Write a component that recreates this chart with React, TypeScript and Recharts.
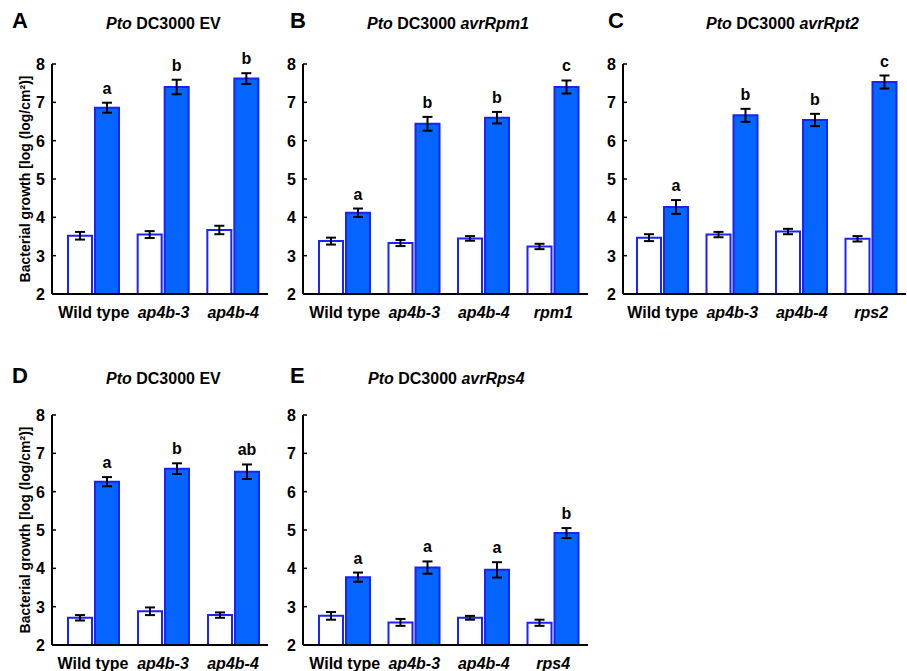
import React from 'react';
import { BarChart, Bar, XAxis, YAxis, ErrorBar, LabelList } from 'recharts';

const FONT = '"Liberation Sans", Arial, Helvetica, sans-serif';

// ---- categories ----
const catsEV = ['Wild type', 'ap4b-3', 'ap4b-4'];
const catsRpm1 = ['Wild type', 'ap4b-3', 'ap4b-4', 'rpm1'];
const catsRpt2 = ['Wild type', 'ap4b-3', 'ap4b-4', 'rps2'];
const catsRps4 = ['Wild type', 'ap4b-3', 'ap4b-4', 'rps4'];
const yTicks = [2, 3, 4, 5, 6, 7, 8];

// ---- Panel A: Pto DC3000 EV ----
const aDay0 = [3.52, 3.55, 3.67];
const aDay0Err = [0.1, 0.09, 0.11];
const aDay3 = [6.86, 7.4, 7.62];
const aDay3Err = [0.13, 0.19, 0.14];
const aLetters = ['a', 'b', 'b'];

// ---- Panel B: Pto DC3000 avrRpm1 ----
const bDay0 = [3.38, 3.33, 3.45, 3.24];
const bDay0Err = [0.09, 0.08, 0.06, 0.07];
const bDay3 = [4.12, 6.44, 6.6, 7.4];
const bDay3Err = [0.11, 0.18, 0.15, 0.17];
const bLetters = ['a', 'b', 'b', 'c'];

// ---- Panel C: Pto DC3000 avrRpt2 ----
const cDay0 = [3.47, 3.55, 3.63, 3.44];
const cDay0Err = [0.09, 0.07, 0.07, 0.07];
const cDay3 = [4.27, 6.66, 6.54, 7.53];
const cDay3Err = [0.18, 0.17, 0.16, 0.17];
const cLetters = ['a', 'b', 'b', 'c'];

// ---- Panel D: Pto DC3000 EV ----
const dDay0 = [2.71, 2.88, 2.78];
const dDay0Err = [0.07, 0.1, 0.07];
const dDay3 = [6.26, 6.6, 6.52];
const dDay3Err = [0.12, 0.14, 0.19];
const dLetters = ['a', 'b', 'ab'];

// ---- Panel E: Pto DC3000 avrRps4 ----
const eDay0 = [2.76, 2.59, 2.71, 2.58];
const eDay0Err = [0.1, 0.09, 0.05, 0.08];
const eDay3 = [3.77, 4.02, 3.96, 4.92];
const eDay3Err = [0.12, 0.16, 0.2, 0.13];
const eLetters = ['a', 'a', 'a', 'b'];

type Row = { cat: string; day0: number; day0Err: number; day3: number; day3Err: number; letter: string };

const build = (cats: string[], d0: number[], e0: number[], d3: number[], e3: number[], letters: string[]): Row[] =>
  cats.map((c, i) => ({ cat: c, day0: d0[i], day0Err: e0[i], day3: d3[i], day3Err: e3[i], letter: letters[i] }));

const dataA = build(catsEV, aDay0, aDay0Err, aDay3, aDay3Err, aLetters);
const dataB = build(catsRpm1, bDay0, bDay0Err, bDay3, bDay3Err, bLetters);
const dataC = build(catsRpt2, cDay0, cDay0Err, cDay3, cDay3Err, cLetters);
const dataD = build(catsEV, dDay0, dDay0Err, dDay3, dDay3Err, dLetters);
const dataE = build(catsRps4, eDay0, eDay0Err, eDay3, eDay3Err, eLetters);

const BLUE_FILL = '#0466ff';
const BLUE_STROKE = '#1a22ff';

const YTick = (props: any) => {
  const { x, y, payload } = props;
  const ax = Number(x) + 7;
  return (
    <g>
      <line x1={ax} x2={ax + 4} y1={y} y2={y} stroke="#000" strokeWidth={1.5} />
      <text x={x} y={y} dy={6} textAnchor="end" fontFamily={FONT} fontWeight="bold" fontSize={16} fill="#000">
        {payload.value}
      </text>
    </g>
  );
};

const XTick = (props: any) => {
  const { x, y, payload } = props;
  const italic = payload.value !== 'Wild type';
  return (
    <text x={x} y={Number(y) + 24} textAnchor="middle" fontFamily={FONT} fontWeight="bold" fontSize={16}
      fontStyle={italic ? 'italic' : 'normal'} fill="#000">
      {payload.value}
    </text>
  );
};

const letterRenderer = (data: Row[]) => (props: any) => {
  const { x, y, width, height, index, value } = props;
  const row = data[index];
  if (!row) return null;
  const ppu = Number(height) / (row.day3 - 2);
  const top = Number(y) - row.day3Err * ppu;
  return (
    <text x={Number(x) + Number(width) / 2} y={top - 9} textAnchor="middle" fontFamily={FONT}
      fontWeight="bold" fontSize={16} fill="#000">
      {value}
    </text>
  );
};

type PanelProps = {
  data: Row[];
  left: number; top: number; height: number;
  axisX: number; plotRight: number; plotTop: number; plotBottom: number; padLeft: number;
};

const Panel = ({ data, left, top, height, axisX, plotRight, plotTop, plotBottom, padLeft }: PanelProps) => {
  const width = plotRight - left + 4;
  const xAxisH = 30;
  const margin = { top: plotTop - top, right: 4, left: 0, bottom: height - (plotBottom - top) - xAxisH };
  return (
    <div style={{ position: 'absolute', left, top, width, height }}>
      <BarChart width={width} height={height} data={data} margin={margin} barSize={24} barGap={3}>
        <XAxis dataKey="cat" height={xAxisH} tickSize={0} tickMargin={0} tickLine={false}
          axisLine={{ stroke: '#000', strokeWidth: 2 }} tick={<XTick />} interval={0}
          padding={{ left: padLeft, right: 0 }} />
        <YAxis type="number" domain={[2, 8]} ticks={yTicks} width={axisX - left} tickSize={0} tickMargin={7}
          tickLine={false} axisLine={{ stroke: '#000', strokeWidth: 2 }} tick={<YTick />} allowDataOverflow />
        <Bar dataKey="day0" fill="#ffffff" stroke={BLUE_STROKE} strokeWidth={2} isAnimationActive={false}>
          <ErrorBar dataKey="day0Err" width={5} stroke="#000" strokeWidth={2} direction="y" />
        </Bar>
        <Bar dataKey="day3" fill={BLUE_FILL} stroke={BLUE_STROKE} strokeWidth={2} isAnimationActive={false}>
          <ErrorBar dataKey="day3Err" width={5} stroke="#000" strokeWidth={2} direction="y" />
          <LabelList dataKey="letter" content={letterRenderer(data)} />
        </Bar>
      </BarChart>
    </div>
  );
};

const Title = ({ x, y, strain }: { x: number; y: number; strain: string }) => (
  <text x={x} y={y} fontFamily={FONT} fontWeight="bold" fontSize={16} fill="#000">
    <tspan fontStyle="italic">Pto</tspan>
    <tspan> DC3000 </tspan>
    <tspan fontStyle={strain === 'EV' ? 'normal' : 'italic'}>{strain}</tspan>
  </text>
);

const Letter = ({ x, y, t }: { x: number; y: number; t: string }) => (
  <text x={x} y={y} fontFamily={FONT} fontWeight="bold" fontSize={22} fill="#000">{t}</text>
);

const YLabel = ({ x, y }: { x: number; y: number }) => (
  <text x={x} y={y} transform={`rotate(-90 ${x} ${y})`} textAnchor="middle" fontFamily={FONT}
    fontWeight="bold" fontSize={14} fill="#000">
    Bacterial growth [log (log/cm²)]
  </text>
);

export default function App() {
  return (
    <div style={{ position: 'absolute', left: 0, top: 0, width: 907, height: 671, overflow: 'hidden', background: '#fff' }}>
      <Panel data={dataA} left={0} top={40} height={300} axisX={52} plotRight={268} plotTop={64} plotBottom={294} padLeft={7} />
      <Panel data={dataB} left={255} top={40} height={300} axisX={303} plotRight={588} plotTop={64} plotBottom={294} padLeft={7} />
      <Panel data={dataC} left={575} top={40} height={300} axisX={623} plotRight={906} plotTop={64} plotBottom={294} padLeft={5} />
      <Panel data={dataD} left={0} top={390} height={300} axisX={52} plotRight={268} plotTop={415} plotBottom={645} padLeft={6} />
      <Panel data={dataE} left={255} top={390} height={300} axisX={303} plotRight={588} plotTop={415} plotBottom={645} padLeft={7} />
      <svg width={907} height={671} style={{ position: 'absolute', left: 0, top: 0, pointerEvents: 'none' }}>
        <Letter x={12} y={28} t="A" />
        <Letter x={290} y={28} t="B" />
        <Letter x={608} y={28} t="C" />
        <Letter x={12} y={383} t="D" />
        <Letter x={290} y={383} t="E" />
        <Title x={106} y={29} strain="EV" />
        <Title x={367} y={29} strain="avrRpm1" />
        <Title x={706} y={29} strain="avrRpt2" />
        <Title x={106} y={384} strain="EV" />
        <Title x={368} y={384} strain="avrRps4" />
        <YLabel x={30} y={179} />
        <YLabel x={30} y={530} />
      </svg>
    </div>
  );
}
